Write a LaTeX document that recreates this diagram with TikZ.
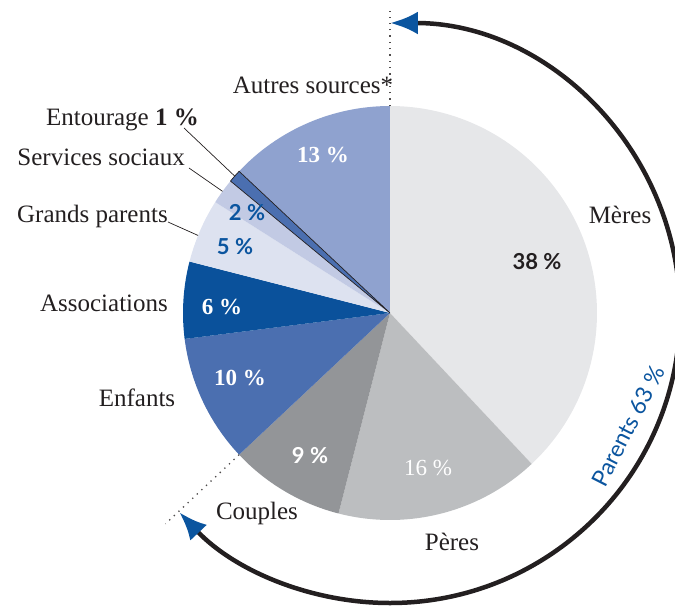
\documentclass[tikz,border=0pt]{standalone}
\usepackage{fontspec}
\setmainfont{Liberation Serif}
\setsansfont{Lato}
\usepackage{tikz}
\usetikzlibrary{arrows.meta, positioning}

\definecolor{meresgray}{HTML}{E6E7E9}
\definecolor{peresgray}{HTML}{BCBEC0}
\definecolor{couplesgray}{HTML}{939598}
\definecolor{enfantsblue}{HTML}{4B6FB0}
\definecolor{assocblue}{HTML}{0A519B}
\definecolor{grandsblue}{HTML}{DDE2F0}
\definecolor{servicesblue}{HTML}{C2CAE4}
\definecolor{autresblue}{HTML}{8FA2CF}
\definecolor{textblue}{HTML}{0B559F}
\definecolor{textdark}{HTML}{231F20}

\begin{document}
\begin{tikzpicture}[
    x=1pt, y=1pt,
    label/.style={font=\fontsize{25}{27}\selectfont, inner sep=0pt, text=textdark},
    pct/.style={font=\fontsize{23}{25}\selectfont\bfseries, inner sep=0pt, text=white},
    pctsans/.style={font=\sffamily\fontsize{22}{24}\selectfont\bfseries, inner sep=0pt, text=white},
    leader/.style={line width=0.7pt, textdark},
    guide/.style={line width=1.3pt, textdark!80, dash pattern=on 1.3pt off 5pt},
    bigarc/.style={line width=4.5pt, textdark,
        {Latex[length=28pt, width=23pt, color=textblue]}-{Latex[length=28pt, width=23pt, color=textblue]}}
]
\useasboundingbox (-390,-293) rectangle (285,313);

% Slices
\fill[meresgray] (0,0) -- (-46.8:207) arc[start angle=-46.8, end angle=90, radius=207] -- cycle;
\fill[peresgray] (0,0) -- (-104.4:207) arc[start angle=-104.4, end angle=-46.8, radius=207] -- cycle;
\fill[couplesgray] (0,0) -- (-136.8:207) arc[start angle=-136.8, end angle=-104.4, radius=207] -- cycle;
\fill[enfantsblue] (0,0) -- (-172.8:207) arc[start angle=-172.8, end angle=-136.8, radius=207] -- cycle;
\fill[assocblue] (0,0) -- (165.6:207) arc[start angle=165.6, end angle=187.2, radius=207] -- cycle;
\fill[grandsblue] (0,0) -- (147.6:207) arc[start angle=147.6, end angle=165.6, radius=207] -- cycle;
\fill[servicesblue] (0,0) -- (140.4:207) arc[start angle=140.4, end angle=147.6, radius=207] -- cycle;
\fill[autresblue] (0,0) -- (90:207) arc[start angle=90, end angle=136.8, radius=207] -- cycle;
\filldraw[fill=enfantsblue, draw=textdark, line width=0.7pt] (0,0) -- (136.8:207) arc[start angle=136.8, end angle=140.4, radius=207] -- cycle;

% Guides and arc
\coordinate (top) at (90:207);
\coordinate (topend) at (90:302);
\coordinate (low) at (-136.8:207);
\coordinate (lowend) at (-136.8:308);
\draw[guide] (top) -- (topend);
\draw[guide] (low) -- (lowend);
\draw[bigarc] (90:290) arc[start angle=90, end angle=-136.6, radius=290];

% Labels
\node[label] (autres) at (-77,228) {Autres sources*};
\node[label, anchor=base east] (entourage) at (-191,188) {Entourage \textbf{1 \%}};
\node[label, anchor=base east] (services) at (-205,148) {Services sociaux};
\node[label, anchor=base east] (grands) at (-222,91) {Grands parents};
\node[label] (assoc) at (-286,10) {Associations};
\node[label] (enfants) at (-253,-85) {Enfants};
\node[label] (couples) at (-133,-200) {Couples};
\node[label] (peres) at (62,-229) {Pères};
\node[label] (meres) at (230,98) {Mères};
\node[font=\sffamily\fontsize{23}{25}\selectfont, text=textblue, rotate=63, inner sep=0pt] (parents) at (238,-113) {Parents 63 \%};

% Percentages
\node[pct] (p13) at (-67,158) {13 \%};
\node[pctsans, text=textblue] (p2) at (-143,100) {2 \%};
\node[pctsans, text=textblue] (p5) at (-155,66) {5 \%};
\node[pct] (p6) at (-168,6) {6 \%};
\node[pct] (p10) at (-150,-65) {10 \%};
\node[pctsans] (p9) at (-80,-143) {9 \%};
\node[pct, font=\fontsize{23}{25}\selectfont] (p16) at (38,-155) {16 \%};
\node[pctsans, text=textdark] (p38) at (147,51) {38 \%};

% Leaders
\coordinate (entpt) at (138.6:207);
\coordinate (servpt) at (144:207);
\coordinate (grandpt) at (158:207);
\draw[leader] ([xshift=-15pt, yshift=-3pt]entourage.base east) -- (entpt);
\draw[leader] ([xshift=4pt, yshift=-3pt]services.base east) -- (servpt);
\draw[leader] (grands.base east) -- (grandpt);

\end{tikzpicture}
\end{document}
